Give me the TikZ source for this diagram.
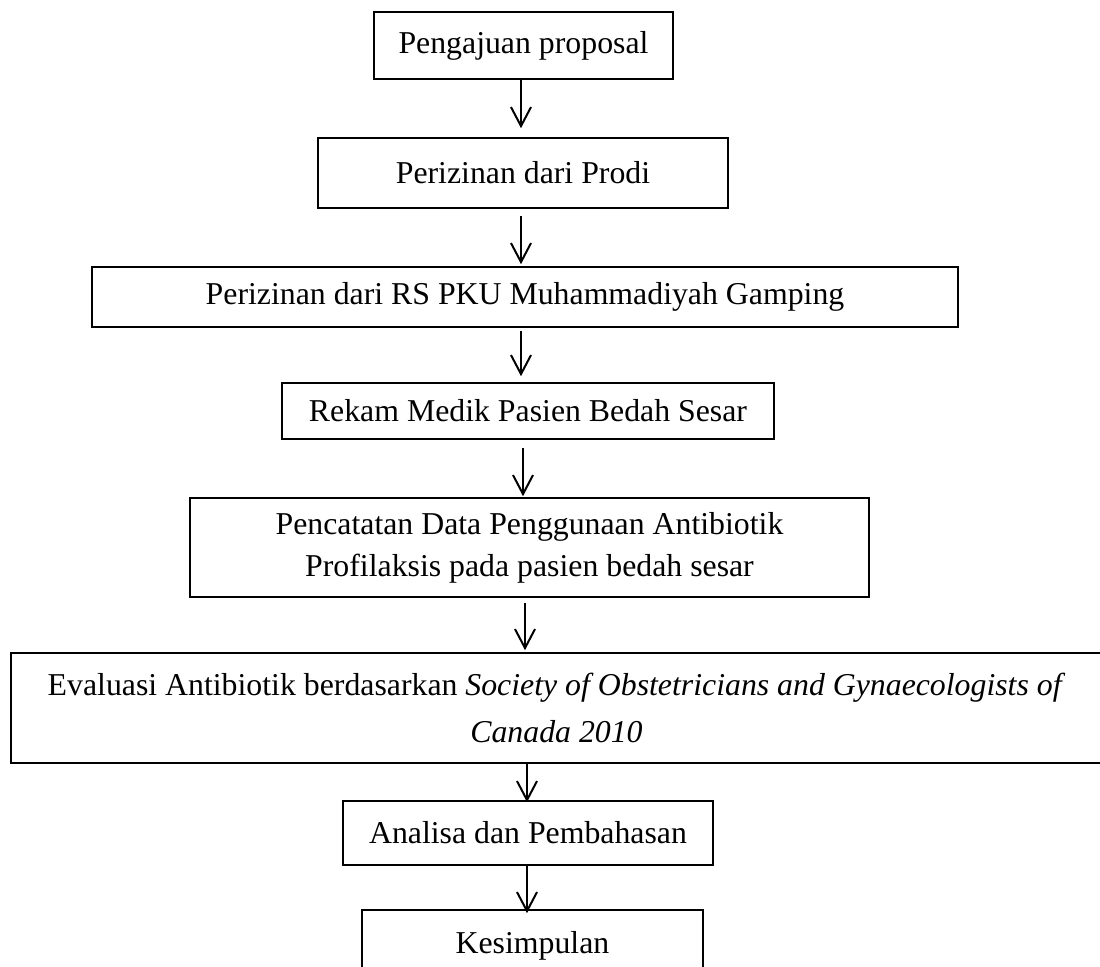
\documentclass[tikz,border=0pt]{standalone}
\usepackage{fontspec}
\setmainfont{Liberation Serif}
\usetikzlibrary{arrows.meta}
\tikzset{
    flowbox/.style={draw,line width=0.8pt,inner sep=0pt,align=center,font=\fontsize{15.9}{21}\selectfont},
    flowarrow/.style={line width=1pt,-{Straight Barb[length=9.5pt,width=10pt]}},
}

\begin{document}
\begin{tikzpicture}[x=0.5pt,y=-0.5pt]
            \useasboundingbox (0,0) rectangle (1100,966);
            \node[flowbox,minimum width=149.5pt,minimum height=33.5pt] (proposal) at (523.5,45.5) {Pengajuan proposal};
            \node[flowbox,minimum width=205pt,minimum height=35pt] (prodi) at (523,173) {Perizinan dari Prodi};
            \node[flowbox,minimum width=433pt,minimum height=30pt] (izinrs) at (525,297) {Perizinan dari RS PKU Muhammadiyah Gamping};
            \node[flowbox,minimum width=246pt,minimum height=28pt] (rekam) at (528,411) {Rekam Medik Pasien Bedah Sesar};
            \node[flowbox,minimum width=339.5pt,minimum height=49.5pt] (catat) at (529.5,547.5) {Pencatatan Data Penggunaan Antibiotik\\Profilaksis pada pasien bedah sesar};
            \node[flowbox,minimum width=545.5pt,minimum height=55pt,font=\fontsize{15.9}{23.5}\selectfont] (evaluasi) at (556.5,708) {Evaluasi Antibiotik berdasarkan \textit{Society of Obstetricians and Gynaecologists of}\\\textit{Canada 2010}};
            \node[flowbox,minimum width=185pt,minimum height=32pt] (analisa) at (528,833) {Analisa dan Pembahasan};
            \node[flowbox,minimum width=170.5pt,minimum height=36pt] (simpul) at (532.5,946) {Kesimpulan};
            % arrow columns
            \coordinate (c1) at (521,0);
            \coordinate (c2) at (523,0);
            \coordinate (c3) at (525,0);
            \coordinate (c4) at (527,0);
            \draw[flowarrow,shorten >=4.5pt] (proposal.south -| c1) -- (prodi.north -| c1);
            \draw[flowarrow,shorten <=3.5pt,shorten >=1pt] (prodi.south -| c1) -- (izinrs.north -| c1);
            \draw[flowarrow,shorten <=1.5pt,shorten >=3pt] (izinrs.south -| c1) -- (rekam.north -| c1);
            \draw[flowarrow,shorten <=4pt,shorten >=0.5pt] (rekam.south -| c2) -- (catat.north -| c2);
            \draw[flowarrow,shorten <=2.5pt,shorten >=1pt] (catat.south -| c3) -- (evaluasi.north -| c3);
            \draw[flowarrow,shorten >=-1pt] (evaluasi.south -| c4) -- (analisa.north -| c4);
            \draw[flowarrow,shorten >=-2pt] (analisa.south -| c4) -- (simpul.north -| c4);
        \end{tikzpicture}
\end{document}
